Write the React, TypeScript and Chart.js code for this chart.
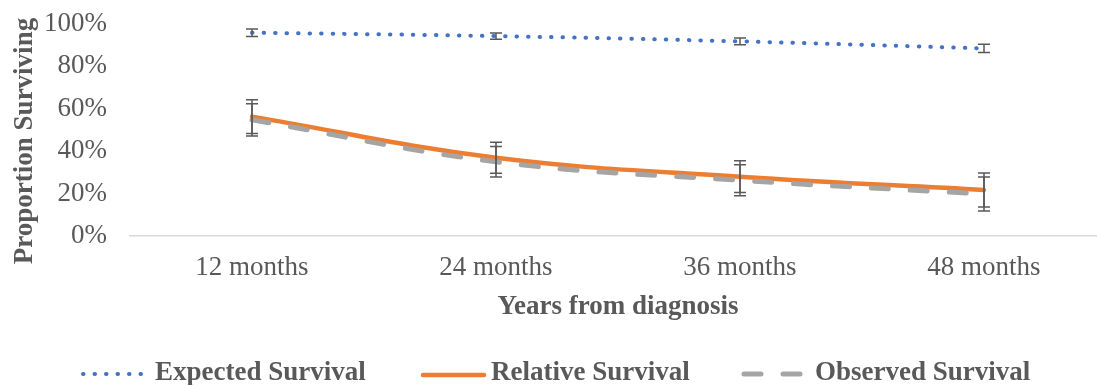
import { useEffect, useRef } from "react";
import { Chart, registerables } from "chart.js";

Chart.register(...registerables);

const categories = ["12 months", "24 months", "36 months", "48 months"];
const expectedSurvival = [95.9, 94.3, 91.8, 88.5];
const expectedError = [1.8, 1.5, 1.6, 1.9];
const relativeSurvival = [56.3, 36.9, 28.0, 21.7];
const relativeError = [8.0, 7.3, 7.5, 8.0];
const observedSurvival = [54.8, 35.0, 26.3, 19.8];
const observedError = [7.6, 7.2, 7.3, 8.0];
const yTicks = [0, 20, 40, 60, 80, 100];
const seriesNames = ["Expected Survival", "Relative Survival", "Observed Survival"];
const xTitle = "Years from diagnosis";
const yTitle = "Proportion Surviving";

const FONT = "'Liberation Serif', 'Times New Roman', serif";
const TEXT = "#595959";
const BLUE = "#4472C4";
const ORANGE = "#ED7D31";
const GRAY = "#A5A5A5";

const errorSets = [expectedError, relativeError, observedError];

const errorBarPlugin = {
  id: "errorBars",
  afterDatasetsDraw(chart: any) {
    const { ctx } = chart;
    const y = chart.scales.y;
    chart.data.datasets.forEach((ds: any, i: number) => {
      const errs = errorSets[i];
      if (!errs) return;
      const meta = chart.getDatasetMeta(i);
      ctx.save();
      ctx.strokeStyle = "#595959";
      ctx.lineWidth = 1.5;
      meta.data.forEach((pt: any, j: number) => {
        const v = ds.data[j];
        const e = errs[j];
        const x = pt.x;
        const yt = y.getPixelForValue(v + e);
        const yb = y.getPixelForValue(v - e);
        ctx.beginPath();
        ctx.moveTo(x, yt);
        ctx.lineTo(x, yb);
        ctx.moveTo(x - 6, yt);
        ctx.lineTo(x + 6, yt);
        ctx.moveTo(x - 6, yb);
        ctx.lineTo(x + 6, yb);
        ctx.stroke();
      });
      ctx.restore();
    });
  },
};

const textPlugin = {
  id: "titlesLegend",
  afterDraw(chart: any) {
    const { ctx, chartArea } = chart;
    ctx.save();
    ctx.fillStyle = TEXT;
    ctx.font = `bold 27px ${FONT}`;
    ctx.textAlign = "center";
    ctx.textBaseline = "alphabetic";
    ctx.fillText(xTitle, (chartArea.left + chartArea.right) / 2, 314);
    ctx.save();
    ctx.translate(32, 141);
    ctx.rotate(-Math.PI / 2);
    ctx.fillText(yTitle, 0, 0);
    ctx.restore();

    const ly = 374;
    ctx.lineCap = "round";
    ctx.strokeStyle = BLUE;
    ctx.lineWidth = 4;
    ctx.setLineDash([0.5, 11]);
    ctx.beginPath();
    ctx.moveTo(83, ly);
    ctx.lineTo(143, ly);
    ctx.stroke();
    ctx.setLineDash([]);
    ctx.strokeStyle = ORANGE;
    ctx.lineWidth = 4.5;
    ctx.beginPath();
    ctx.moveTo(423, ly + 1);
    ctx.lineTo(484, ly + 1);
    ctx.stroke();
    ctx.strokeStyle = GRAY;
    ctx.lineWidth = 5;
    ctx.setLineDash([17, 22]);
    ctx.beginPath();
    ctx.moveTo(744, ly);
    ctx.lineTo(800, ly);
    ctx.stroke();
    ctx.setLineDash([]);

    ctx.fillStyle = TEXT;
    ctx.font = `bold 27px ${FONT}`;
    ctx.textAlign = "left";
    ctx.textBaseline = "alphabetic";
    ctx.fillText(seriesNames[0], 155, 380);
    ctx.fillText(seriesNames[1], 491, 380);
    ctx.fillText(seriesNames[2], 815, 380);
    ctx.restore();
  },
};

export default function App() {
  const ref = useRef<HTMLCanvasElement | null>(null);

  useEffect(() => {
    if (!ref.current) return;
    const chart = new Chart(ref.current, {
      type: "line",
      data: {
        labels: categories,
        datasets: [
          {
            label: seriesNames[0],
            data: expectedSurvival,
            borderColor: BLUE,
            borderWidth: 4,
            borderDash: [0.5, 11],
            borderCapStyle: "round",
            pointRadius: 0,
            tension: 0.4,
            order: 2,
          },
          {
            label: seriesNames[1],
            data: relativeSurvival,
            borderColor: ORANGE,
            borderWidth: 4.5,
            borderCapStyle: "round",
            pointRadius: 0,
            tension: 0.4,
            order: 1,
          },
          {
            label: seriesNames[2],
            data: observedSurvival,
            borderColor: GRAY,
            borderWidth: 5,
            borderDash: [17, 22],
            borderCapStyle: "round",
            pointRadius: 0,
            tension: 0.4,
            order: 0,
          },
        ],
      },
      options: {
        animation: false,
        responsive: false,
        layout: { padding: { top: 24, right: 14, bottom: 0, left: 0 } },
        plugins: {
          legend: { display: false },
          tooltip: { enabled: false },
        },
        scales: {
          x: {
            type: "category",
            offset: true,
            grid: { display: false, drawTicks: false },
            border: { display: true, color: "#D9D9D9", width: 1.5 },
            ticks: {
              color: TEXT,
              font: { family: FONT, size: 27 },
              padding: 16,
              maxRotation: 0,
              autoSkip: false,
            },
            afterFit(s: any) {
              s.height = 149;
              s.paddingLeft = 0;
              s.paddingRight = 0;
            },
          },
          y: {
            min: 0,
            max: 100,
            grid: { display: false, drawTicks: false },
            border: { display: false },
            afterBuildTicks(s: any) {
              s.ticks = yTicks.map((v) => ({ value: v }));
            },
            ticks: {
              color: TEXT,
              font: { family: FONT, size: 27 },
              padding: 23,
              callback: (v: any) => `${v}%`,
            },
            afterFit(s: any) {
              s.width = 130;
              s.paddingTop = 0;
              s.paddingBottom = 0;
            },
          },
        },
      },
      plugins: [errorBarPlugin, textPlugin],
    });
    return () => chart.destroy();
  }, []);

  return (
    <div
      style={{
        position: "fixed",
        left: 0,
        top: 0,
        width: 1097,
        height: 385,
        overflow: "hidden",
        background: "#fff",
      }}
    >
      <canvas ref={ref} width={1120} height={385} style={{ display: "block" }} />
    </div>
  );
}
